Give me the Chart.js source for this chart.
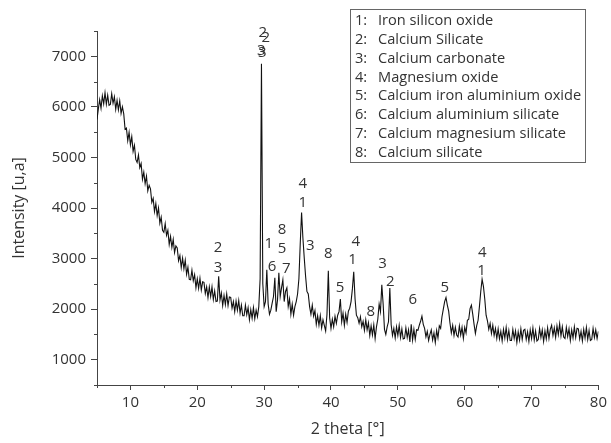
<!DOCTYPE html>
<html lang="en">
<head>
<meta charset="UTF-8">
<title>XRD pattern</title>
<script src="https://cdn.jsdelivr.net/npm/chart.js"></script>
<style>
  body{margin:0; background:#fff;}
  #wrap{width:611px; height:443px;}
</style>
</head>
<body>
<div id="wrap"><canvas id="myChart" width="611" height="443"></canvas></div>
<script>
// scan range 5..80 deg, read every 0.2 deg
const startAngle = 5;
const angleStep = 0.2;
const intensity = [
  5750, 5960, 6140, 5970, 6220, 6060, 6280, 6050, 6230, 6030, // 5.0
  6050, 6260, 6070, 6200, 5950, 6130, 5940, 6120, 5870, 6000, // 7.0
  5860, 5560, 5580, 5330, 5500, 5250, 5410, 5120, 5240, 4960, // 9.0
  4900, 5050, 4800, 4880, 4570, 4710, 4480, 4630, 4340, 4450, // 11.0
  4380, 4110, 4190, 3930, 4090, 3850, 4000, 3700, 3820, 3560, // 13.0
  3520, 3690, 3460, 3560, 3280, 3440, 3220, 3380, 3120, 3250, // 15.0
  3210, 2960, 3060, 2820, 3010, 2800, 2970, 2690, 2830, 2590, // 17.0
  2580, 2770, 2560, 2680, 2420, 2600, 2410, 2610, 2380, 2540, // 19.0
  2530, 2310, 2440, 2230, 2440, 2250, 2440, 2190, 2360, 2150, // 21.0
  2160, 2650, 2180, 2320, 2070, 2270, 2090, 2300, 2070, 2240, // 23.0
  2230, 2020, 2150, 1950, 2160, 1980, 2170, 1920, 2080, 1870, // 25.0
  1870, 2080, 1890, 2030, 1790, 1990, 1820, 2030, 1810, 1980, // 27.0
  1850, 2050, 2600, 6850, 2500, 2050, 2150, 2780, 2100, 1900, // 29.0
  1980, 2120, 2250, 2620, 1950, 2180, 2720, 2250, 2420, 2580, // 31.0
  2150, 2350, 2420, 2050, 2200, 1900, 2100, 1880, 2050, 2150, // 33.0
  2300, 2600, 3300, 3910, 3400, 3010, 2650, 2350, 2300, 2050, // 35.0
  1900, 2080, 1860, 1970, 1700, 1870, 1680, 1870, 1630, 1790, // 37.0
  1680, 1570, 1900, 2760, 1830, 1620, 1800, 1650, 1860, 1720, // 39.0
  1880, 1950, 2200, 1750, 1920, 1680, 1900, 1740, 1960, 2020, // 41.0
  2150, 2400, 2740, 2200, 1880, 1830, 1720, 1850, 1650, 1760, // 43.0
  1580, 1790, 1590, 1730, 1480, 1670, 1490, 1690, 1420, 1650, // 45.0
  1800, 2100, 1950, 2480, 2100, 1600, 1500, 1650, 1750, 2420, // 47.0
  1690, 1480, 1620, 1430, 1650, 1480, 1680, 1440, 1610, 1410, // 49.0
  1420, 1630, 1440, 1590, 1350, 1700, 1390, 1600, 1400, 1590, // 51.0
  1580, 1680, 1760, 1860, 1700, 1620, 1450, 1560, 1380, 1500, // 53.0
  1590, 1390, 1530, 1340, 1580, 1430, 1670, 1620, 1850, 2000, // 55.0
  2150, 2230, 2080, 1960, 1720, 1530, 1680, 1480, 1640, 1490, // 57.0
  1450, 1670, 1490, 1640, 1420, 1640, 1530, 1780, 1800, 2010, // 59.0
  2080, 1900, 1700, 1520, 1680, 1780, 2050, 2350, 2590, 2450, // 61.0
  2200, 1880, 1770, 1600, 1720, 1520, 1680, 1480, 1620, 1420, // 63.0
  1610, 1410, 1560, 1370, 1600, 1430, 1640, 1400, 1580, 1380, // 65.0
  1380, 1600, 1420, 1570, 1340, 1550, 1390, 1610, 1400, 1580, // 67.0
  1600, 1400, 1550, 1360, 1590, 1420, 1630, 1390, 1570, 1370, // 69.0
  1400, 1620, 1440, 1590, 1360, 1570, 1410, 1630, 1420, 1600, // 71.0
  1680, 1480, 1630, 1440, 1670, 1500, 1710, 1470, 1650, 1450, // 73.0
  1420, 1640, 1460, 1610, 1380, 1590, 1430, 1650, 1440, 1620, // 75.0
  1610, 1410, 1560, 1370, 1600, 1430, 1640, 1400, 1580, 1380, // 77.0
  1400, 1620, 1440, 1590, 1420, 1560                          // 79.0
];

// legend of phases
const phaseNumbers = ['1:', '2:', '3:', '4:', '5:', '6:', '7:', '8:'];
const phaseNames = [
  'Iron silicon oxide',
  'Calcium Silicate',
  'Calcium carbonate',
  'Magnesium oxide',
  'Calcium iron aluminium oxide',
  'Calcium aluminium silicate',
  'Calcium magnesium silicate',
  'Calcium silicate'
];

// peak markers (phase number written above the peak)
const peakText   = ['2', '3', '2', '2', '3', '3', '1', '6', '8', '5', '7', '4', '1', '3', '8', '5', '4', '1', '8', '3', '2', '6', '5', '4', '1'];
const peakAngle  = [23.12, 23.12, 29.8, 30.25, 29.58, 29.73, 30.69, 31.18, 32.67, 32.67, 33.32, 35.79, 35.79, 36.89, 39.6, 41.34, 43.72, 43.22, 45.95, 47.72, 48.86, 52.23, 57.03, 62.63, 62.52];
const peakHeight = [3210, 2815, 7470, 7375, 7100, 7080, 3300, 2840, 3565, 3185, 2790, 4470, 4110, 3255, 3105, 2430, 3335, 2985, 1950, 2900, 2545, 2185, 2430, 3125, 2760];

const axisColor = '#444';
const textColor = '#333';
const fontFamily = "'Open Sans', sans-serif";

const points = intensity.map((v, i) => ({x: startAngle + i * angleStep, y: v}));

// minor ticks, peak numbers, legend box
const annotate = {
  id: 'annotate',
  afterDraw(chart) {
    const {ctx, scales: {x, y}} = chart;
    ctx.save();
    ctx.strokeStyle = axisColor;
    ctx.lineWidth = 1;
    ctx.beginPath();
    x.ticks.forEach(t => {
      if (t.value % 10 !== 0) {
        const px = Math.round(x.getPixelForValue(t.value)) + 0.5;
        ctx.moveTo(px, x.top);
        ctx.lineTo(px, x.top + 3);
      }
    });
    y.ticks.forEach(t => {
      if (t.value % 1000 !== 0) {
        const py = Math.round(y.getPixelForValue(t.value)) + 0.5;
        ctx.moveTo(y.right, py);
        ctx.lineTo(y.right - 3, py);
      }
    });
    ctx.stroke();

    ctx.fillStyle = textColor;
    ctx.font = '15px ' + fontFamily;
    ctx.textAlign = 'center';
    ctx.textBaseline = 'middle';
    peakText.forEach((t, i) => {
      ctx.fillText(t, x.getPixelForValue(peakAngle[i]), y.getPixelForValue(peakHeight[i]));
    });

    // legend
    ctx.strokeStyle = '#666';
    ctx.strokeRect(350.5, 9.5, 235, 153);
    ctx.font = '14.6px ' + fontFamily;
    ctx.textAlign = 'left';
    phaseNames.forEach((n, i) => {
      const ly = 21 + i * 18.8;
      ctx.fillText(phaseNumbers[i], 355, ly);
      ctx.fillText(n, 378, ly);
    });
    ctx.restore();
  }
};

new Chart(document.getElementById('myChart'), {
  type: 'line',
  data: {
    datasets: [{
      data: points,
      borderColor: '#111',
      borderWidth: 1.1,
      pointRadius: 0,
      tension: 0
    }]
  },
  options: {
    responsive: false,
    animation: false,
    layout: {padding: {top: 31, right: 9, left: 0, bottom: 0}},
    plugins: {legend: {display: false}, tooltip: {enabled: false}},
    scales: {
      x: {
        type: 'linear',
        min: 5,
        max: 80,
        afterFit: s => { s.height = 58; },
        border: {color: axisColor},
        grid: {
          drawOnChartArea: false,
          tickLength: 5,
          color: c => (c.tick && c.tick.value % 10 === 0) ? axisColor : 'rgba(0,0,0,0)'
        },
        ticks: {
          stepSize: 5,
          autoSkip: false,
          maxRotation: 0,
          padding: 4,
          color: textColor,
          font: {family: fontFamily, size: 15},
          callback: v => v % 10 === 0 ? v : ''
        },
        title: {
          display: true,
          text: '2 theta [°]',
          color: textColor,
          font: {family: fontFamily, size: 16},
          padding: {top: 0, bottom: 4}
        }
      },
      y: {
        min: 500,
        max: 7500,
        afterFit: s => { s.width = 97; },
        border: {color: axisColor},
        grid: {
          drawOnChartArea: false,
          tickLength: 6,
          color: c => (c.tick && c.tick.value % 1000 === 0) ? axisColor : 'rgba(0,0,0,0)'
        },
        ticks: {
          stepSize: 500,
          autoSkip: false,
          padding: 5,
          color: textColor,
          font: {family: fontFamily, size: 15},
          callback: v => v % 1000 === 0 ? v : ''
        },
        title: {
          display: true,
          text: 'Intensity [u,a]',
          color: textColor,
          font: {family: fontFamily, size: 16},
          padding: {top: 10, bottom: 0}
        }
      }
    }
  },
  plugins: [annotate]
});
</script>
</body>
</html>
